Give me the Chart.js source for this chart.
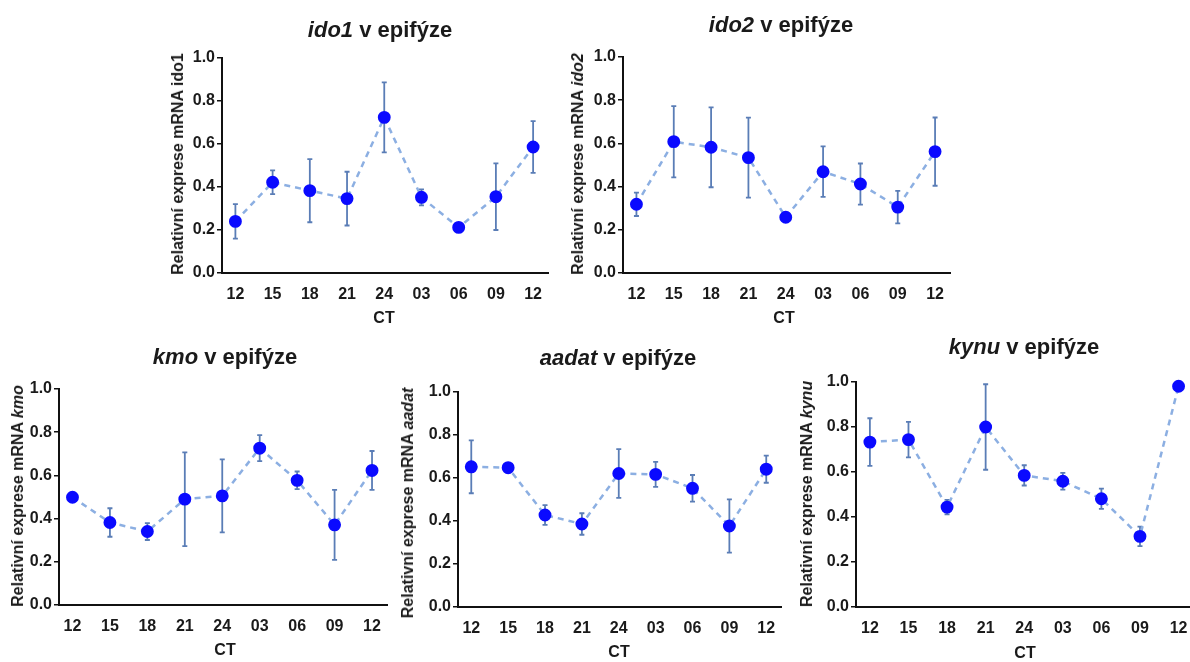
<!DOCTYPE html>
<html>
<head>
<meta charset="utf-8">
<script src="https://cdn.jsdelivr.net/npm/chart.js@4.4.1/dist/chart.umd.min.js"></script>
<style>
  html, body { margin: 0; padding: 0; background: #fff; overflow: hidden; }
  body { width: 1190px; height: 662px; position: relative; font-family: "Liberation Sans", Arial, sans-serif; color: #1a1a1a; }
  canvas { position: absolute; }
  .title { position: absolute; font-size: 22px; font-weight: bold; white-space: nowrap; transform: translate(-50%, -50%); }
  .ytitle { position: absolute; font-size: 16px; font-weight: bold; white-space: nowrap; transform: translate(-50%, -50%) rotate(-90deg); }
  .xtitle { position: absolute; font-size: 16px; font-weight: bold; transform: translate(-50%, -50%); }
</style>
</head>
<body>
<script>
// CT time points (x axis)
const ctLabels = ['12', '15', '18', '21', '24', '03', '06', '09', '12'];
const yTicks = [0, 0.2, 0.4, 0.6, 0.8, 1.0];

// means and error bar half-lengths
const ido1Mean = [0.24, 0.422, 0.383, 0.346, 0.724, 0.352, 0.212, 0.355, 0.586];
const ido1Err  = [0.08, 0.055, 0.147, 0.125, 0.163, 0.037, 0.015, 0.155, 0.12];

const ido2Mean = [0.318, 0.608, 0.582, 0.534, 0.258, 0.469, 0.412, 0.305, 0.562];
const ido2Err  = [0.054, 0.165, 0.185, 0.185, 0.008, 0.117, 0.095, 0.075, 0.158];

const kmoMean = [0.499, 0.382, 0.34, 0.49, 0.505, 0.726, 0.577, 0.371, 0.623];
const kmoErr  = [0, 0.066, 0.039, 0.217, 0.169, 0.06, 0.041, 0.162, 0.09];

const aadatMean = [0.652, 0.648, 0.428, 0.386, 0.621, 0.617, 0.552, 0.377, 0.641];
const aadatErr  = [0.123, 0, 0.046, 0.05, 0.113, 0.058, 0.062, 0.124, 0.063];

const kynuMean = [0.733, 0.744, 0.444, 0.8, 0.585, 0.559, 0.481, 0.314, 0.981];
const kynuErr  = [0.106, 0.079, 0.032, 0.19, 0.045, 0.037, 0.045, 0.043, 0];

const FONT = '"Liberation Sans", Arial, sans-serif';

// plot boxes (axis rectangle in page pixels) and label spots
const panels = [
    { gene: 'ido1', mean: ido1Mean, err: ido1Err, box: [222, 58, 548, 273], title: [380, 30], ytitle: [178, 164], xtitle: [384, 318], italicY: false },
    { gene: 'ido2', mean: ido2Mean, err: ido2Err, box: [623, 57, 950, 273], title: [781, 25], ytitle: [578, 164], xtitle: [784, 318], italicY: true },
    { gene: 'kmo', mean: kmoMean, err: kmoErr, box: [59, 389, 387, 605], title: [225, 357], ytitle: [18, 496], xtitle: [225, 650], italicY: true },
    { gene: 'aadat', mean: aadatMean, err: aadatErr, box: [458, 392, 781, 607], title: [618, 358], ytitle: [408, 503], xtitle: [619, 652], italicY: true },
    { gene: 'kynu', mean: kynuMean, err: kynuErr, box: [856, 382, 1194, 607], title: [1024, 347], ytitle: [807, 494], xtitle: [1025, 653], italicY: true }
];

const errorBars = {
    id: 'errorBars',
    beforeDatasetsDraw(chart) {
        const ctx = chart.ctx;
        const xs = chart.scales.x, ys = chart.scales.y;
        chart.data.datasets.forEach(ds => {
            if (!ds.errors) return;
            ctx.save();
            ctx.strokeStyle = '#5a7db6';
            ctx.lineWidth = 1.8;
            ds.data.forEach((pt, i) => {
                const e = ds.errors[i];
                if (!e) return;
                const px = xs.getPixelForValue(pt.x);
                const top = ys.getPixelForValue(pt.y + e);
                const bot = ys.getPixelForValue(pt.y - e);
                ctx.beginPath();
                ctx.moveTo(px, top); ctx.lineTo(px, bot);
                ctx.moveTo(px - 2.5, top); ctx.lineTo(px + 2.5, top);
                ctx.moveTo(px - 2.5, bot); ctx.lineTo(px + 2.5, bot);
                ctx.stroke();
            });
            ctx.restore();
        });
    }
};

const Y_W = 60, X_H = 40, PAD_T = 20, PAD_R = 12;

function addText(cls, pos, html) {
    const el = document.createElement('div');
    el.className = cls;
    el.style.left = pos[0] + 'px';
    el.style.top = pos[1] + 'px';
    el.innerHTML = html;
    document.body.appendChild(el);
}

panels.forEach(p => {
    const [l, t, r, b] = p.box;
    const canvas = document.createElement('canvas');
    canvas.width = r - l + Y_W + PAD_R;
    canvas.height = b - t + PAD_T + X_H;
    canvas.style.left = (l - Y_W) + 'px';
    canvas.style.top = (t - PAD_T) + 'px';
    document.body.appendChild(canvas);

    addText('title', p.title, '<i>' + p.gene + '</i> v epifýze');
    addText('ytitle', p.ytitle, 'Relativní exprese mRNA ' + (p.italicY ? '<i>' + p.gene + '</i>' : p.gene));
    addText('xtitle', p.xtitle, 'CT');

    new Chart(canvas.getContext('2d'), {
        type: 'line',
        data: {
            datasets: [{
                data: p.mean.map((v, i) => ({ x: i, y: v })),
                errors: p.err,
                borderColor: '#8cafe2',
                borderWidth: 2.5,
                borderDash: [6, 5],
                pointBackgroundColor: '#0a0aff',
                pointBorderColor: '#0a0aff',
                pointRadius: 5.2,
                tension: 0,
                clip: false
            }]
        },
        options: {
            responsive: false,
            animation: false,
            devicePixelRatio: 1,
            layout: { padding: { top: PAD_T, right: PAD_R, left: 0, bottom: 0 } },
            plugins: { legend: { display: false }, tooltip: { enabled: false } },
            scales: {
                x: {
                    type: 'linear',
                    min: -0.36,
                    max: 8.4,
                    afterFit: s => { s.height = X_H; },
                    afterBuildTicks: s => { s.ticks = ctLabels.map((_, i) => ({ value: i })); },
                    ticks: {
                        callback: v => ctLabels[v],
                        font: { family: FONT, size: 16, weight: 'bold' },
                        color: '#1a1a1a',
                        padding: 12,
                        maxRotation: 0,
                        autoSkip: false
                    },
                    grid: { drawOnChartArea: false, drawTicks: false },
                    border: { display: true, color: '#111', width: 2 }
                },
                y: {
                    min: 0,
                    max: 1,
                    afterFit: s => { s.width = Y_W; },
                    afterBuildTicks: s => { s.ticks = yTicks.map(v => ({ value: v })); },
                    ticks: {
                        callback: v => v.toFixed(1),
                        font: { family: FONT, size: 16, weight: 'bold' },
                        color: '#1a1a1a',
                        padding: 2
                    },
                    grid: { drawOnChartArea: false, drawTicks: true, tickLength: 5, color: '#111', lineWidth: 1.5 },
                    border: { display: true, color: '#111', width: 2 }
                }
            }
        },
        plugins: [errorBars]
    });
});
</script>
</body>
</html>
